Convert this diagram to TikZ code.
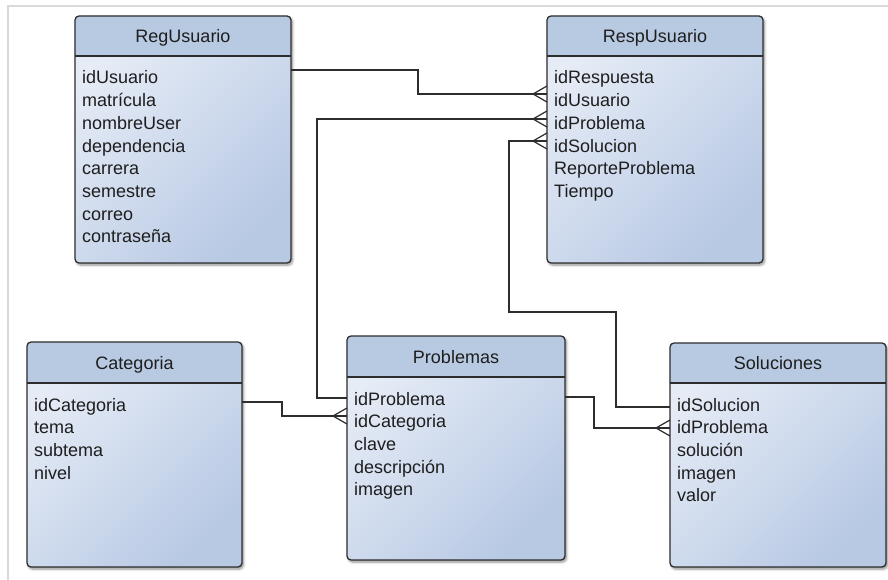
\documentclass[tikz,border=0pt]{standalone}
\usepackage{fontspec}
\setmainfont{Liberation Sans}
\usetikzlibrary{shadows,shadows.blur,calc}
\definecolor{hdrcol}{RGB}{184,201,226}
\definecolor{bodylight}{RGB}{230,236,246}
\definecolor{bodydark}{RGB}{184,201,228}
\definecolor{txtcol}{RGB}{30,30,30}
\definecolor{linecol}{RGB}{45,45,45}
\definecolor{framecol}{RGB}{217,217,217}
\tikzset{
  boxbody/.style={rectangle, inner sep=0pt, outer sep=0pt, rounded corners=4pt,
    top color=bodylight, bottom color=bodydark, shading angle=45,
    blur shadow={shadow xshift=1.5pt, shadow yshift=-2pt, shadow blur steps=6, shadow blur radius=2.5pt, shadow opacity=45}},
  boxline/.style={draw=linecol, line width=1.3pt},
  titletext/.style={font=\fontsize{18}{22}\selectfont, text=txtcol, inner sep=0pt, anchor=base},
  fieldtext/.style={font=\fontsize{18}{22}\selectfont, text=txtcol, inner sep=0pt, anchor=base west},
  conn/.style={draw=linecol, line width=1.2pt},
  crow/.pic={\draw[conn] (-14,0) -- (0,-8) (-14,0) -- (0,8) (-14,0) -- (0,0);}
}
% #1 name, #2 x, #3 y, #4 w, #5 h, #6 header height, #7 title, #8 fields
\newcommand\erbox[8]{%
  \node[boxbody, minimum width=#4pt, minimum height=#5pt, anchor=north west] (#1) at (#2,#3) {};
  \fill[hdrcol] ({#2},{#3+#6}) [rounded corners=4pt] -- (#2,#3) -- ({#2+#4},#3) [sharp corners] -- ({#2+#4},{#3+#6}) -- cycle;
  \draw[boxline, rounded corners=4pt] (#1.north west) rectangle (#1.south east);
  \draw[boxline] ({#2},{#3+#6}) -- ({#2+#4},{#3+#6});
  \node[titletext] (#1-title) at ({#2+#4/2},{#3+#6/2+6.5}) {#7};
  \foreach \f [count=\i from 0] in {#8}
    \node[fieldtext] (#1-f\i) at ({#2+7},{#3+#6+28+22.7*\i}) {\f};
}
\begin{document}
\begin{tikzpicture}[x=1pt,y=-1pt]
\useasboundingbox (0,0) rectangle (888,580);
\draw[framecol, line width=2pt] (8,580) -- (8,6) -- (888,6);

\erbox{reg}{75}{16}{216}{247}{40}{RegUsuario}{idUsuario,matrícula,nombreUser,dependencia,carrera,semestre,correo,contraseña}
\erbox{resp}{547}{16}{216}{247}{40}{RespUsuario}{idRespuesta,idUsuario,idProblema,idSolucion,ReporteProblema,Tiempo}
\erbox{cat}{27}{342}{215}{225}{41}{Categoria}{idCategoria,tema,subtema,nivel}
\erbox{prob}{347}{336}{218}{224}{41}{Problemas}{idProblema,idCategoria,clave,descripción,imagen}
\erbox{sol}{670}{343}{216}{224}{40}{Soluciones}{idSolucion,idProblema,solución,imagen,valor}

% RegUsuario -> RespUsuario (idUsuario)
\draw[conn] (reg.east |- 0,70) -| (418,94) -- (resp.west |- 0,94);
\pic at (resp.west |- 0,94) {crow};
% Problemas -> RespUsuario (idProblema)
\draw[conn] (resp.west |- 0,119) -- (317,119) |- (prob.west |- 0,398);
\pic at (resp.west |- 0,119) {crow};
% Soluciones -> RespUsuario (idSolucion)
\draw[conn] (resp.west |- 0,141) -- (509,141) -- (509,312) -- (616,312) |- (sol.west |- 0,407);
\pic at (resp.west |- 0,141) {crow};
% Categoria -> Problemas
\draw[conn] (cat.east |- 0,402) -| (282,416) -- (prob.west |- 0,416);
\pic at (prob.west |- 0,416) {crow};
% Problemas -> Soluciones
\draw[conn] (prob.east |- 0,397) -| (594,428) -- (sol.west |- 0,428);
\pic at (sol.west |- 0,428) {crow};
\end{tikzpicture}
\end{document}
